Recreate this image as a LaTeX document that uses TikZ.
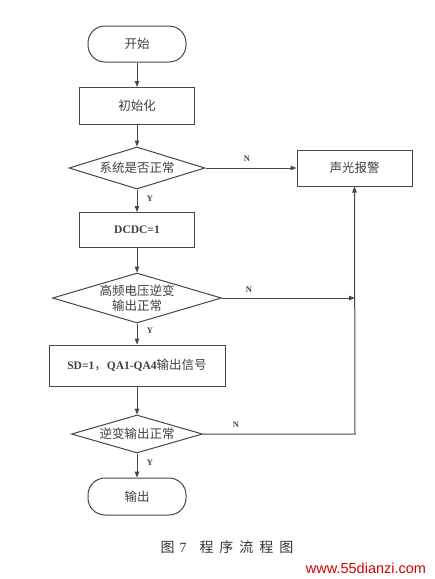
\documentclass[tikz,border=0pt]{standalone}
\usepackage{fontspec}
\setmainfont{Liberation Serif}
\newfontfamily\cjk{Noto Sans CJK SC}
\newfontfamily\wmfont{Liberation Sans}
\usetikzlibrary{shapes.geometric,arrows.meta}
\begin{document}
\begin{tikzpicture}[x=1pt,y=-1pt,
  line/.style={draw=black!72,line width=1pt},
  arr/.style={line,-{Triangle[length=6pt,width=4.5pt]}},
  box/.style={line,fill=white,rectangle,inner sep=0pt,font=\fontsize{12.5}{14}\selectfont\cjk,text=black!75},
  term/.style={box,rounded corners=17pt},
  dia/.style={line,fill=white,diamond,inner sep=0pt},
  txt/.style={inner sep=0pt,font=\fontsize{12.5}{15}\selectfont\cjk,text=black!75,align=center},
  yn/.style={inner sep=0pt,font=\fontsize{8.5}{9}\selectfont\bfseries,text=black!75}]
\fill[white] (0,0) rectangle (435,579);
\useasboundingbox (0,0) rectangle (435,579);

\node[term,minimum width=98pt,minimum height=36pt] (start) at (137,44) {开始};
\node[box,minimum width=115pt,minimum height=37pt] (init) at (137,106) {初始化};
\node[dia,minimum width=136pt,minimum height=42pt] (d1) at (137,168) {};
\node[txt] (t1) at (d1) {系统是否正常};
\node[box,minimum width=115pt,minimum height=36pt] (alarm) at (354.5,168) {声光报警};
\node[box,minimum width=115pt,minimum height=35pt] (dcdc) at (137,230) {\rmfamily\fontsize{11.5}{13}\selectfont\bfseries DCDC=1};
\node[dia,minimum width=169pt,minimum height=50pt] (d2) at (137,298) {};
\node[txt] (t2) at (d2) {高频电压逆变\\输出正常};
\node[box,minimum width=176pt,minimum height=41pt] (sd) at (137,365.5) {{\rmfamily\fontsize{11.5}{13}\selectfont\bfseries SD=1}，{\rmfamily\fontsize{11.5}{13}\selectfont\bfseries QA1-QA4}输出信号};
\node[dia,minimum width=131pt,minimum height=38pt] (d3) at (137,434) {};
\node[txt] (t3) at (d3) {逆变输出正常};
\node[term,minimum width=98pt,minimum height=37pt] (out) at (137,496.5) {输出};

\coordinate (j2) at (355,298);
\coordinate (j3) at (355,434);

\draw[arr] (start) -- (init);
\draw[arr] (init) -- (d1);
\draw[arr] (d1) -- (dcdc);
\draw[arr] (dcdc) -- (d2);
\draw[arr] (d2) -- (sd);
\draw[arr] (sd) -- (d3);
\draw[arr] (d3) -- (out);
\draw[arr] (d1.east) -- (alarm.west);
\draw[arr] (d2.east) -- (j2);
\draw[arr] (d3.east) -- (j3) -- (alarm.south);

\node[yn] (y1) at (150,199) {Y};
\node[yn] (y2) at (150,331) {Y};
\node[yn] (y3) at (150,463) {Y};
\node[yn] (n1) at (247,159) {N};
\node[yn] (n2) at (249,290) {N};
\node[yn] (n3) at (236,425) {N};

\node[inner sep=0pt,font=\fontsize{14}{16}\selectfont\cjk,text=black!80] (cap) at (227,547)
  {图\hspace{5pt}{\rmfamily 7}\hspace{13pt}程\hspace{6pt}序\hspace{6pt}流\hspace{6pt}程\hspace{6pt}图};
\node[inner sep=0pt,font=\fontsize{14.5}{16}\selectfont\wmfont,text=red!85!black] (wm) at (366,568) {www.55dianzi.com};
\end{tikzpicture}
\end{document}
